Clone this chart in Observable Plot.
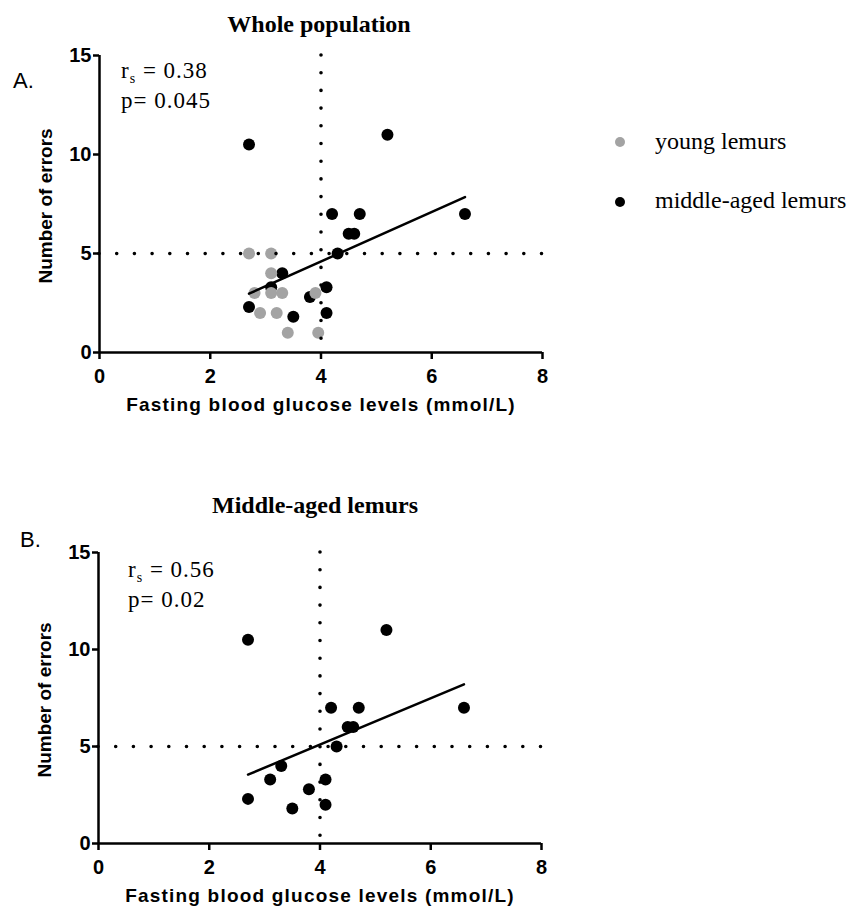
<!DOCTYPE html>
<html><head><meta charset="utf-8">
<script src="https://cdn.jsdelivr.net/npm/d3@7"></script>
<script src="https://cdn.jsdelivr.net/npm/@observablehq/plot@0.6"></script>
<style>
body{margin:0;background:#fff;}
#wrap{position:relative;width:856px;height:907px;overflow:hidden;background:#fff;}
#wrap > svg{position:absolute;left:0;overflow:visible;}
</style></head><body><div id="wrap"></div>
<script>
// ---- data ----
const groups = ["young lemurs", "middle-aged lemurs"];
const groupColors = ["#a3a3a3", "#000000"];
const youngGlucose = [2.7, 3.1, 3.1, 2.8, 3.1, 3.3, 3.9, 2.9, 3.2, 3.4, 3.95];
const youngErrors  = [5, 5, 4, 3, 3, 3, 3, 2, 2, 1, 1];
const midGlucose = [2.7, 5.2, 4.2, 4.7, 6.6, 4.5, 4.6, 4.3, 3.3, 3.1, 4.1, 3.8, 2.7, 4.1, 3.5];
const midErrors  = [10.5, 11, 7, 7, 7, 6, 6, 5, 4, 3.3, 3.3, 2.8, 2.3, 2, 1.8];
const fitAllGlucose = [2.7, 6.6], fitAllErrors = [2.97, 7.85];
const fitMidGlucose = [2.7, 6.6], fitMidErrors = [3.55, 8.2];
const xTicks = [0, 2, 4, 6, 8];
const yTicks = [0, 5, 10, 15];
const cutGlucose = 4, cutErrors = 5;
const panelTitles = ["Whole population", "Middle-aged lemurs"];
const panelLetters = ["A.", "B."];
const statR = ["0.38", "0.56"];
const statP = ["0.045", "0.02"];
const xLabel = "Fasting blood glucose levels (mmol/L)";
const yLabel = "Number of errors";

const zip = (xs, ys) => xs.map((x, i) => ({x, y: ys[i]}));
const young = zip(youngGlucose, youngErrors);
const mid = zip(midGlucose, midErrors);

const SANS = "'Liberation Sans', Arial, sans-serif";
const SERIF = "'Liberation Serif', 'Times New Roman', serif";

function panel({points, fit, top, mL, mT, height, mB}) {
  const dotted = {stroke: "#000", strokeWidth: 3.6, strokeLinecap: "round", strokeDasharray: "0 17.7"};
  const marks = [
    Plot.axisX({ticks: xTicks, tickSize: 7, tickPadding: 9, strokeWidth: 2.5, fontSize: 20, fontWeight: "bold", label: null}),
    Plot.axisY({ticks: yTicks, tickSize: 6, tickPadding: 2, strokeWidth: 2.5, fontSize: 20, fontWeight: "bold", label: null}),
    Plot.ruleX([0], {y1: 0, y2: 15, strokeWidth: 2.5}),
    Plot.ruleY([0], {x1: 0, x2: 8, strokeWidth: 2.5})
  ];
  points.forEach((pts) => {
    marks.push(Plot.dot(pts.data, {x: "x", y: "y", r: 6, fill: pts.color, stroke: "none"}));
  });
  marks.push(
    Plot.ruleX([cutGlucose], {y1: 15, y2: 0, ...dotted}),
    Plot.ruleY([cutErrors], {x1: 0, x2: 8, ...dotted}),
    Plot.line(fit, {x: "x", y: "y", stroke: "#000", strokeWidth: 2.5}),
    Plot.text([yLabel], {text: d => d, frameAnchor: "left", textAnchor: "middle", lineAnchor: "middle", dx: -54, dy: 2, rotate: -90, fontSize: 19, fontWeight: "bold", fill: "#000"}),
    Plot.text([xLabel], {text: d => d, frameAnchor: "bottom", textAnchor: "middle", dy: 45, lineAnchor: "top", fontSize: 19, fontWeight: "bold", fill: "#000"})
  );
  const svg = Plot.plot({
    width: 856, height,
    marginLeft: mL, marginRight: 856 - mL - 443, marginTop: mT, marginBottom: mB,
    x: {domain: [0, 8]}, y: {domain: [0, 15]},
    style: {fontFamily: SANS, color: "#000", background: "transparent", overflow: "visible"},
    marks
  });
  svg.style.top = top + "px";
  d3.select(svg).selectAll("text").filter(function () { return this.textContent === xLabel; })
    .style("letter-spacing", "1.2px");
  return svg;
}

const wrap = document.getElementById("wrap");
wrap.appendChild(panel({
  points: [{data: mid, color: groupColors[1]}, {data: young, color: groupColors[0]}],
  fit: zip(fitAllGlucose, fitAllErrors), top: 0, mL: 99, mT: 55, height: 430, mB: 78
}));
wrap.appendChild(panel({
  points: [{data: mid, color: groupColors[1]}],
  fit: zip(fitMidGlucose, fitMidErrors), top: 470, mL: 98, mT: 82, height: 437, mB: 64
}));

// ---- overlay text (titles, letters, annotations, legend) ----
const ov = d3.create("svg").attr("width", 856).attr("height", 907).style("top", "0px");
const titleXY = [[319, 32], [315, 513]];
const letterXY = [[13, 88], [20, 547]];
const statXY = [[121, 78], [128, 577]];
panelTitles.forEach((t, i) => {
  ov.append("text").attr("x", titleXY[i][0]).attr("y", titleXY[i][1]).attr("text-anchor", "middle")
    .attr("font-family", SERIF).attr("font-weight", "bold").attr("font-size", 24).text(t);
  ov.append("text").attr("x", letterXY[i][0]).attr("y", letterXY[i][1])
    .attr("font-family", SANS).attr("font-size", 22).text(panelLetters[i]);
  const r = ov.append("text").attr("x", statXY[i][0]).attr("y", statXY[i][1])
    .attr("font-family", SERIF).attr("font-size", 23).style("letter-spacing", "1px");
  r.append("tspan").text("r");
  r.append("tspan").attr("font-size", 14).attr("dy", 5).text("s");
  r.append("tspan").attr("dy", -5).text(" = " + statR[i]);
  ov.append("text").attr("x", statXY[i][0]).attr("y", statXY[i][1] + 30)
    .attr("font-family", SERIF).attr("font-size", 23).style("letter-spacing", "1px")
    .text("p= " + statP[i]);
});
const legY = [[142, 149], [202, 208]];
groups.forEach((g, i) => {
  ov.append("circle").attr("cx", 620).attr("cy", legY[i][0]).attr("r", 5).attr("fill", groupColors[i]);
  ov.append("text").attr("x", 655).attr("y", legY[i][1]).attr("font-family", SERIF).attr("font-size", 24).text(g);
});
wrap.appendChild(ov.node());
</script>
</body></html>
